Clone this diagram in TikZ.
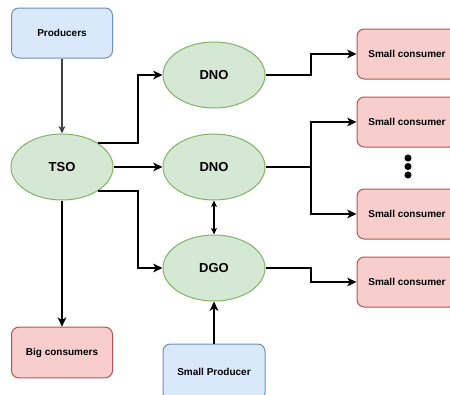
\documentclass[tikz,border=0pt]{standalone}
\usepackage{fontspec}
\setmainfont{Liberation Sans}
\usetikzlibrary{shapes.geometric,arrows.meta}
\definecolor{grnfill}{HTML}{D5E8D4}
\definecolor{grnline}{HTML}{82B366}
\definecolor{redfill}{HTML}{F8CECC}
\definecolor{redline}{HTML}{B85450}
\definecolor{blufill}{HTML}{DAE8FC}
\definecolor{bluline}{HTML}{6C8EBF}
\tikzset{
  boxbase/.style={rectangle, rounded corners=5.5pt, line width=0.75pt, inner sep=0pt,
    font=\fontsize{7.5}{9}\selectfont\bfseries},
  prodbox/.style={boxbase, draw=bluline, fill=blufill},
  consbox/.style={boxbase, draw=redline, fill=redfill},
  opnode/.style={ellipse, draw=grnline, fill=grnfill, line width=0.75pt, inner sep=0pt,
    minimum width=76.5pt, minimum height=49.5pt,
    font=\fontsize{9.75}{11}\selectfont\bfseries},
  flow/.style={line width=1.3pt, -{Stealth[length=7pt,width=6.5pt,inset=2pt]}},
  thinflow/.style={line width=0.8pt, black!75, -{Stealth[length=5.5pt,width=5pt,inset=1.5pt]}},
  bothflow/.style={line width=0.8pt, {Stealth[length=5pt,width=4.5pt,inset=1.5pt]}-{Stealth[length=5pt,width=4.5pt,inset=1.5pt]}},
  dot/.style={circle, fill=black, inner sep=0pt, minimum size=5.3pt}
}
\begin{document}
\begin{tikzpicture}[x=0.75pt, y=-0.75pt]
\useasboundingbox (0,0) rectangle (450,394);
\clip (0,0) rectangle (450,394);
\fill[white] (0,0) rectangle (450,394);

% generation side
\node[prodbox, minimum width=75.75pt, minimum height=37.5pt] (prod) at (62,33) {Producers};
\node[prodbox, minimum width=76.5pt, minimum height=42pt] (sprod) at (214,372) {Small Producer};

% operators
\node[opnode] (tso) at (62,167) {TSO};
\node[opnode] (dno1) at (214,75) {DNO};
\node[opnode] (dno2) at (214,167) {DNO};
\node[opnode] (dgo) at (214,268) {DGO};

% consumers
\node[consbox, minimum width=75.75pt, minimum height=38pt] (big) at (62,352.5) {Big consumers};
\node[consbox, minimum width=75pt, minimum height=37.5pt] (sc1) at (407,54) {Small consumer};
\node[consbox, minimum width=75pt, minimum height=37.5pt] (sc2) at (407,122) {Small consumer};
\node[consbox, minimum width=75pt, minimum height=37.5pt] (sc3) at (407,214) {Small consumer};
\node[consbox, minimum width=75pt, minimum height=37.5pt] (sc4) at (407,282) {Small consumer};

% ellipsis between the consumer boxes
\node[dot] (d1) at (408,158) {};
\node[dot] (d2) at (408,166.5) {};
\node[dot] (d3) at (408,175) {};

% routing columns
\coordinate (ja) at (138,0);
\coordinate (jb) at (311,0);

% connectors
\draw[thinflow] (prod.south) -- (tso.north);
\draw[flow] (tso.north east) -| (ja |- dno1.west) -- (dno1.west);
\draw[flow] (tso.east) -- (dno2.west);
\draw[flow] (tso.south east) -| (ja |- dgo.west) -- (dgo.west);
\draw[flow] (tso.south) -- (big.north);
\draw[bothflow] (dno2.south) -- (dgo.north);
\draw[flow] (sprod.north) -- (dgo.south);
\draw[flow] (dno1.east) -| (jb |- sc1.west) -- (sc1.west);
\draw[flow] (dno2.east) -| (jb |- sc2.west) -- (sc2.west);
\draw[flow] (dno2.east) -| (jb |- sc3.west) -- (sc3.west);
\draw[flow] (dgo.east) -| (jb |- sc4.west) -- (sc4.west);
\end{tikzpicture}
\end{document}
